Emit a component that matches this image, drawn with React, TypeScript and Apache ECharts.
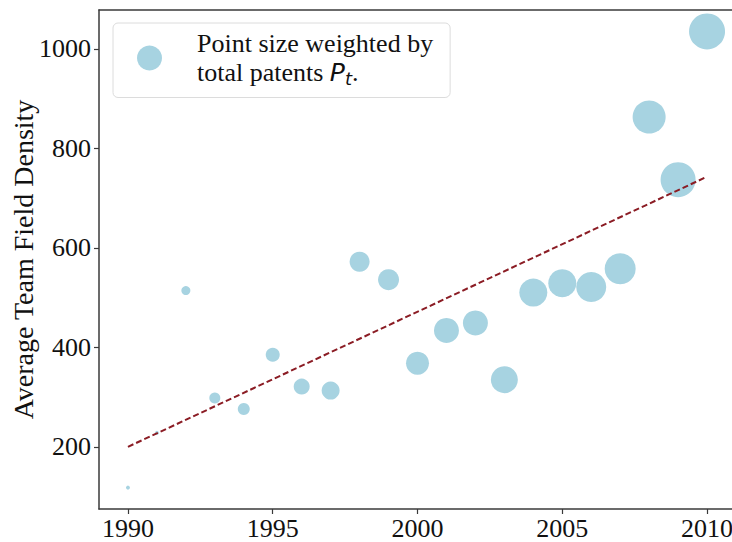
import React, { useEffect, useRef } from "react";
import * as echarts from "echarts";

// Yearly observations
const years = [1990, 1991, 1992, 1993, 1994, 1995, 1996, 1997, 1998, 1999, 2000, 2001, 2002, 2003, 2004, 2005, 2006, 2007, 2008, 2009, 2010];
const avgFieldDensity = [118, 228, 514, 298, 276, 385, 321, 313, 572, 536, 368, 434, 449, 335, 510, 529, 521, 558, 863, 737, 1035];
// Total patents per year (drives marker area)
const totalPatents = [16, 16, 81, 121, 144, 196, 256, 324, 400, 441, 529, 625, 625, 729, 784, 784, 900, 961, 1089, 1225, 1296];

// Linear trend endpoints
const trendYears = [1990, 2010];
const trendValues = [200, 743];

// Axis tick labels
const xTicks = [1990, 1995, 2000, 2005, 2010];
const yTicks = [200, 400, 600, 800, 1000];

const SERIF = "'Liberation Serif', 'Times New Roman', serif";
const MATH = "'DejaVu Sans', sans-serif";
const SPINE = { show: true, lineStyle: { color: "#3a3a3a", width: 1.5 } };

export default function App() {
  const ref = useRef<HTMLDivElement>(null);

  useEffect(() => {
    if (!ref.current) return;
    const chart = echarts.init(ref.current, null, { renderer: "svg" });

    const points = years.map((y, i) => [y, avgFieldDensity[i], totalPatents[i]]);
    const trend = trendYears.map((y, i) => [y, trendValues[i]]);

    chart.setOption({
      animation: false,
      backgroundColor: "#ffffff",
      textStyle: { fontFamily: SERIF },
      grid: {
        left: 99,
        top: 10,
        right: -4,
        bottom: 33,
        outerBoundsMode: "none",
        containLabel: false,
        show: false,
      },
      legend: {
        left: 113,
        top: 23,
        orient: "vertical",
        data: ["patents"],
        icon: "circle",
        itemWidth: 25,
        itemHeight: 25,
        padding: [6, 17, 10, 24],
        borderColor: "#dcdcdc",
        borderWidth: 1,
        borderRadius: 5,
        backgroundColor: "rgba(255,255,255,0.85)",
        selectedMode: false,
        formatter: () => "Point size weighted by\ntotal patents {m|P}{s|t}.",
        textStyle: {
          fontFamily: SERIF,
          fontSize: 26,
          color: "#111",
          lineHeight: 29,
          padding: [0, 0, 0, 30],
          rich: {
            m: { fontFamily: MATH, fontStyle: "italic", fontSize: 25, color: "#111", lineHeight: 29 },
            s: { fontFamily: MATH, fontStyle: "italic", fontSize: 18, color: "#111", lineHeight: 29, padding: [12, 0, 0, 0] },
          },
        },
      },
      xAxis: [
        {
          type: "value",
          position: "bottom",
          min: 1989,
          max: 2011,
          splitLine: { show: false },
          axisLine: { ...SPINE, onZero: false },
          axisTick: { show: true, length: 5, lineStyle: { color: "#3a3a3a", width: 1.2 }, customValues: xTicks },
          axisLabel: {
            customValues: xTicks,
            formatter: (v: number) => String(v),
            fontFamily: SERIF,
            fontSize: 26,
            color: "#111",
            margin: 6,
          },
        },
        {
          // top spine
          type: "value",
          position: "top",
          min: 1989,
          max: 2011,
          splitLine: { show: false },
          axisLine: { ...SPINE, onZero: false },
          axisTick: { show: false },
          axisLabel: { show: false },
        },
      ],
      yAxis: {
        type: "value",
        min: 75,
        max: 1078,
        name: "Average Team Field Density",
        nameLocation: "middle",
        nameGap: 62,
        nameMoveOverlap: false,
        nameTextStyle: { fontFamily: SERIF, fontSize: 28, color: "#111" },
        splitLine: { show: false },
        axisLine: { ...SPINE, onZero: false },
        axisTick: { show: true, length: 5, lineStyle: { color: "#3a3a3a", width: 1.2 }, customValues: yTicks },
        axisLabel: {
          customValues: yTicks,
          formatter: (v: number) => String(v),
          fontFamily: SERIF,
          fontSize: 26,
          color: "#111",
          margin: 8,
        },
      },
      series: [
        {
          name: "patents",
          type: "scatter",
          data: points,
          symbolSize: (v: number[]) => Math.sqrt(v[2]),
          itemStyle: { color: "#a7d3e1", opacity: 1 },
          z: 2,
        },
        {
          name: "trend",
          type: "line",
          data: trend,
          symbol: "none",
          lineStyle: { color: "#8b1c24", width: 2, type: [6, 3] },
          z: 3,
        },
      ],
    });

    return () => chart.dispose();
  }, []);

  return (
    <div
      ref={ref}
      style={{ position: "fixed", left: 0, top: 0, width: 732, height: 542 }}
    />
  );
}
